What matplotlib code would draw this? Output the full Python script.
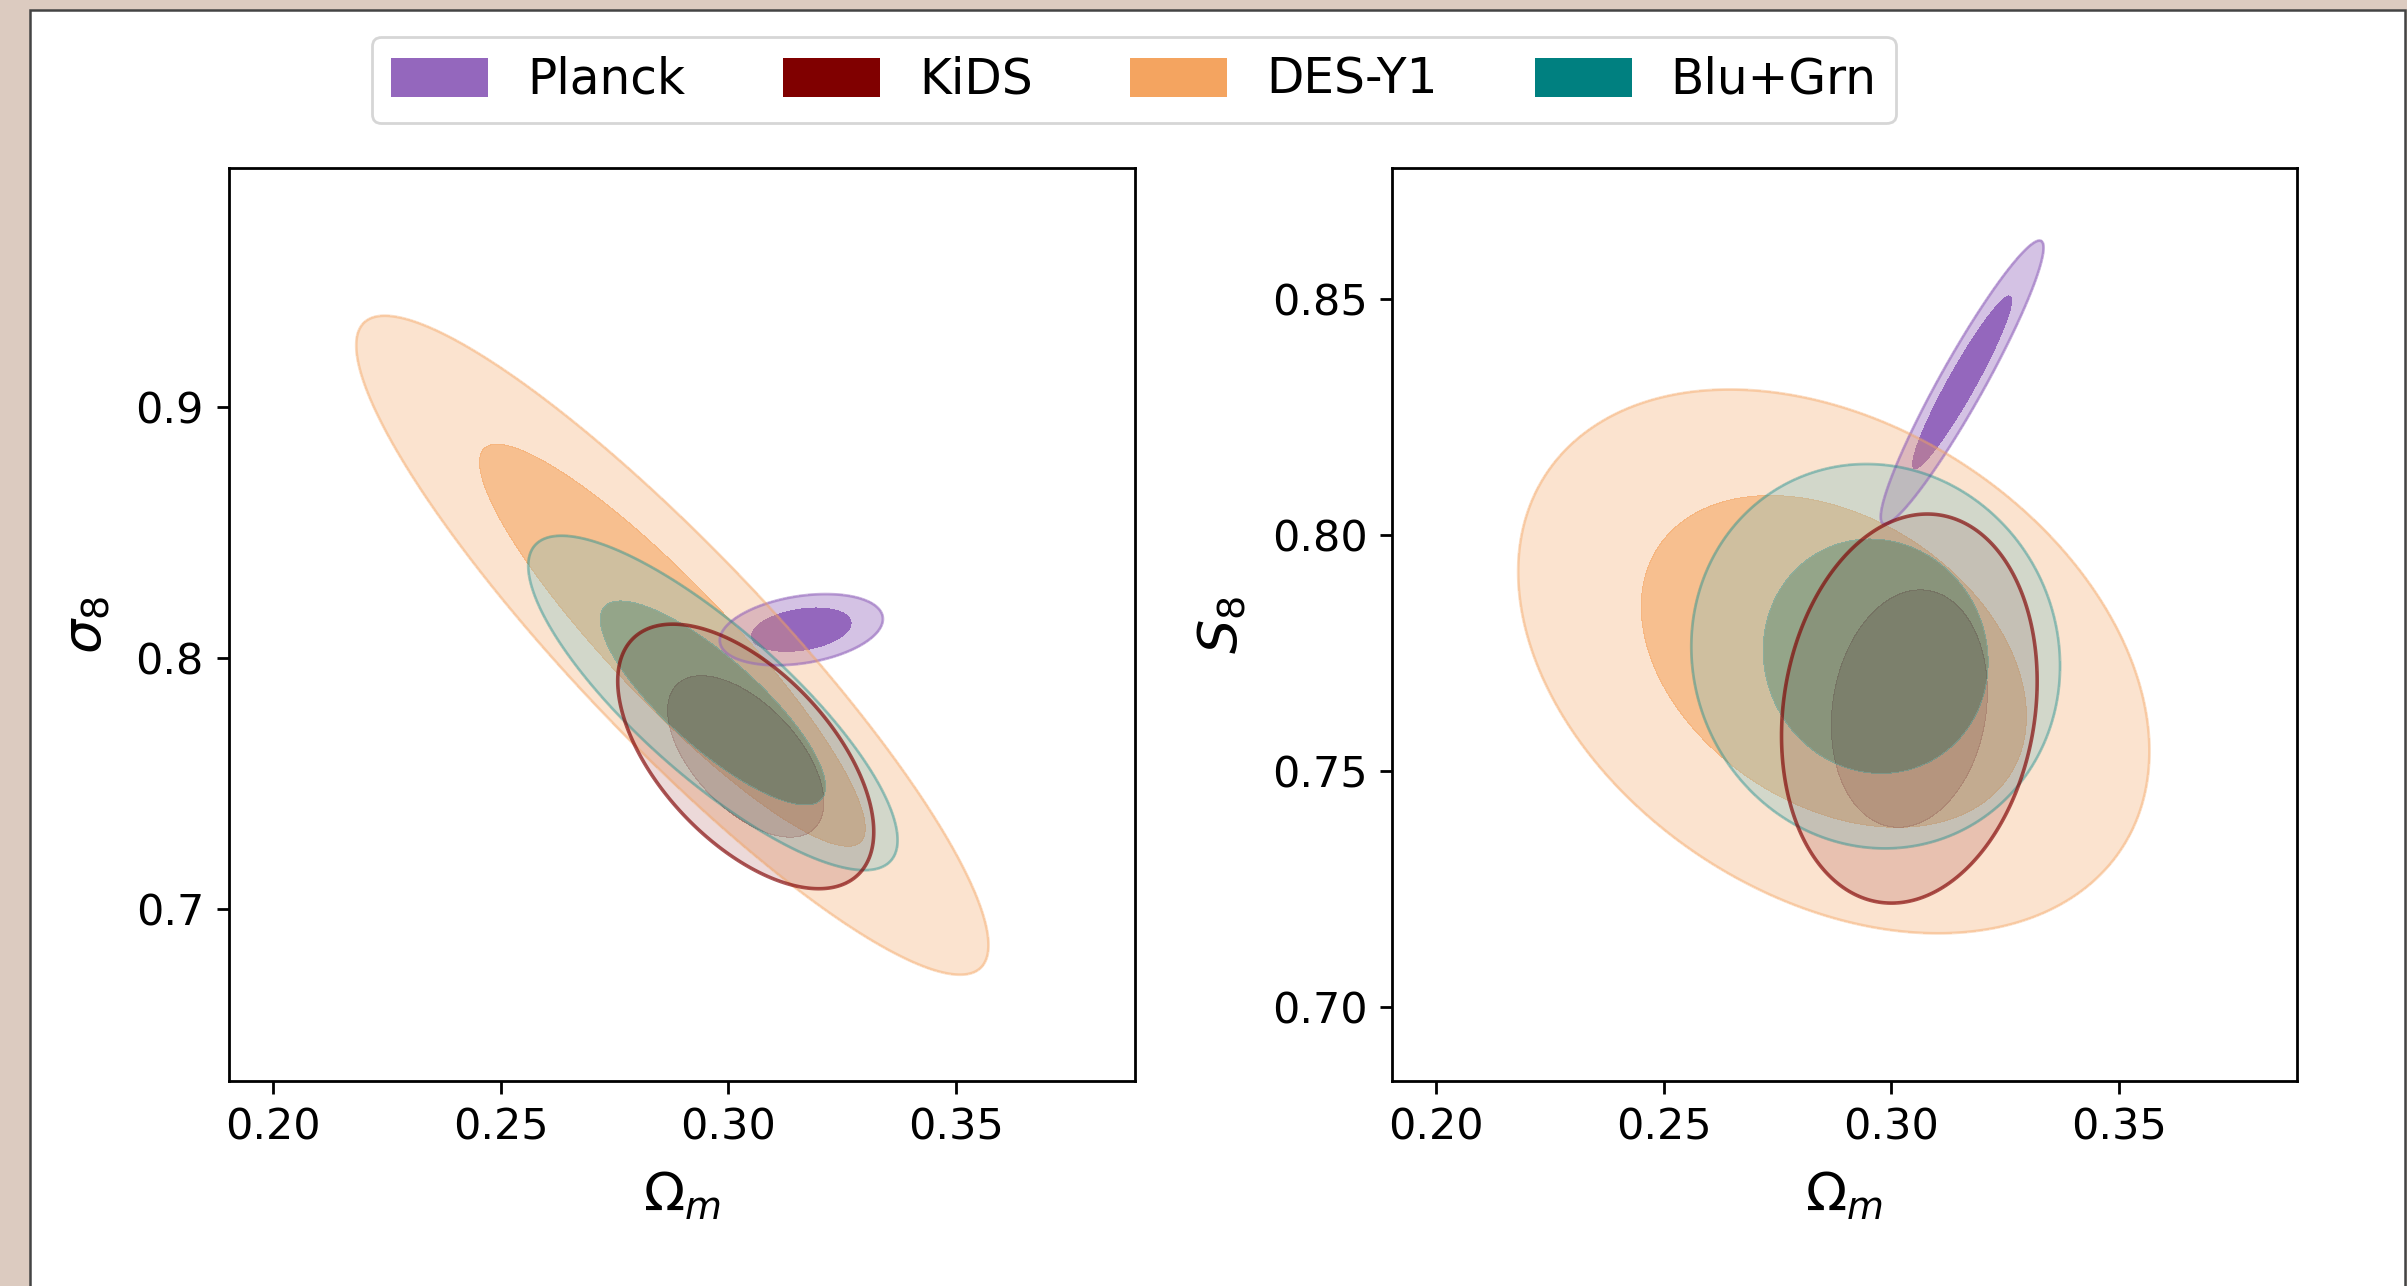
import numpy as np
import matplotlib.pyplot as plt
from matplotlib.colors import to_rgba
from matplotlib.patches import Patch, Rectangle

# ---------------- DATA ---------------- #

names = ["Planck", "KiDS", "DES-Y1", "Blu+Grn"]

# left panel: Omega_m vs sigma_8  (centre, 1-sigma width, correlation)
om_mean_l = [0.3160, 0.3038, 0.2877, 0.2966]
om_std_l = [0.0072, 0.0113, 0.0279, 0.0163]
sig8_mean = [0.8112, 0.7607, 0.8050, 0.7820]
sig8_std = [0.0057, 0.0212, 0.0528, 0.0268]
rho_l = [0.30, -0.57, -0.91, -0.82]

# right panel: Omega_m vs S_8
om_mean_r = [0.3156, 0.3040, 0.2874, 0.2966]
om_std_r = [0.0072, 0.0113, 0.0279, 0.0163]
s8_mean = [0.8324, 0.7632, 0.7732, 0.7743]
s8_std = [0.0121, 0.0166, 0.0232, 0.0164]
rho_r = [0.95, 0.14, -0.33, -0.05]

om_ticks = [0.20, 0.25, 0.30, 0.35]
sig8_ticks = [0.7, 0.8, 0.9]
s8_ticks = [0.70, 0.75, 0.80, 0.85]

# delta chi^2 for 68% / 95% regions with two parameters
chi2_levels = [0.0, 2.30, 6.18]

# ---------------- STYLE ---------------- #

colors = ["#9467bd", "#800000", "#f4a460", "#008080"]
outer_colors = ["#9467bd", "#800000", "#f4a460", "#80c0c0"]
outer_alpha = [0.40, 0.15, 0.30, 0.33]
inner_alpha = [1.00, 0.33, 0.70, 0.40]
line_alpha = [0.55, 0.65, 0.40, 0.35]
line_w = [1.0, 1.3, 1.0, 1.0]
fill_z = [1, 3, 2, 4]

W, H, DPI = 2407, 1286, 200


def draw_contours(ax, xm, xs, ym, ys, rho, xlim, ylim):
    x = np.linspace(xlim[0], xlim[1], 500)
    y = np.linspace(ylim[0], ylim[1], 500)
    X, Y = np.meshgrid(x, y)
    for i in range(len(names)):
        dx = (X - xm[i]) / xs[i]
        dy = (Y - ym[i]) / ys[i]
        chi2 = (dx**2 - 2 * rho[i] * dx * dy + dy**2) / (1 - rho[i]**2)
        ax.contourf(X, Y, chi2, levels=chi2_levels,
                    colors=[to_rgba(colors[i], inner_alpha[i]),
                            to_rgba(outer_colors[i], outer_alpha[i])],
                    zorder=fill_z[i])
        ax.contour(X, Y, chi2, levels=[chi2_levels[2]],
                   colors=[to_rgba(colors[i], line_alpha[i])],
                   linewidths=line_w[i], zorder=6 if i == 1 else 5)
    ax.set_xlim(xlim)
    ax.set_ylim(ylim)


fig = plt.figure(figsize=(W / DPI, H / DPI), dpi=DPI, facecolor="#dccbc0")

# white card with dark border behind the plots
card = Rectangle((29.5 / W, -0.05), (2404.7 - 29.5) / W, 1.05 - 10.3 / H,
                 transform=fig.transFigure, facecolor="white",
                 edgecolor="#444444", linewidth=0.9, zorder=-1)
fig.patches.append(card)

ax1 = fig.add_axes([228.9 / W, 1 - 1081 / H, 905.6 / W, 912.7 / H])
ax2 = fig.add_axes([1392.4 / W, 1 - 1081 / H, 904.2 / W, 912.7 / H])

draw_contours(ax1, om_mean_l, om_std_l, sig8_mean, sig8_std, rho_l,
              (0.1904, 0.3891), (0.6314, 0.995))
draw_contours(ax2, om_mean_r, om_std_r, s8_mean, s8_std, rho_r,
              (0.1904, 0.3891), (0.6842, 0.8778))

ax1.set_xticks(om_ticks)
ax1.set_xticklabels([f"{t:.2f}" for t in om_ticks])
ax1.set_yticks(sig8_ticks)
ax1.set_yticklabels([f"{t:.1f}" for t in sig8_ticks])
ax2.set_xticks(om_ticks)
ax2.set_xticklabels([f"{t:.2f}" for t in om_ticks])
ax2.set_yticks(s8_ticks)
ax2.set_yticklabels([f"{t:.2f}" for t in s8_ticks])

for ax in (ax1, ax2):
    ax.tick_params(labelsize=15.5, length=4.5, width=1.0, pad=4.5)
    for sp in ax.spines.values():
        sp.set_linewidth(1.0)
    ax.set_xlabel(r"$\Omega_m$", fontsize=19.5, labelpad=8)

ax1.set_ylabel(r"$\sigma_8$", fontsize=19.5, labelpad=8)
ax2.set_ylabel(r"$S_8$", fontsize=19.5, labelpad=8)

handles = [Patch(facecolor=c, label=n) for c, n in zip(colors, names)]
fig.legend(handles=handles, loc="center", bbox_to_anchor=(0.4711, 0.9378),
           ncol=4, fontsize=17.5, handleheight=0.85)

fig.savefig("out.png", dpi=DPI, facecolor=fig.get_facecolor())
